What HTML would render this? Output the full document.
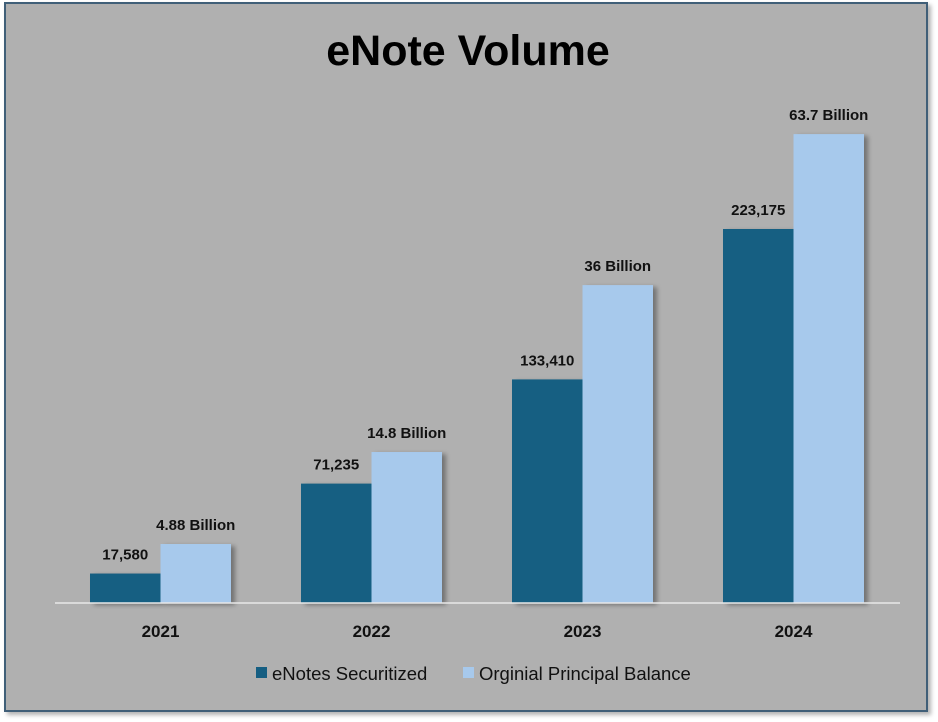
<!DOCTYPE html>
<html><head><meta charset="utf-8"><style>
html,body{margin:0;padding:0;background:#fff;}
svg{display:block;font-family:"Liberation Sans",Arial,sans-serif;}
</style></head><body>
<svg id="chart" width="938" height="722" viewBox="0 0 938 722">
<defs>
<filter id="sh" x="-20%" y="-20%" width="150%" height="140%"><feDropShadow dx="4" dy="2" stdDeviation="2.5" flood-color="#000" flood-opacity="0.35"/></filter>
<filter id="fs" x="-5%" y="-5%" width="110%" height="110%"><feDropShadow dx="3" dy="3" stdDeviation="2" flood-color="#000" flood-opacity="0.3"/></filter>
</defs>
<rect x="5" y="3" width="922" height="708" fill="#b0b0b0" stroke="#3f5f78" stroke-width="2" filter="url(#fs)"/>
<text x="468" y="65" text-anchor="middle" font-size="43" font-weight="bold" fill="#000">eNote Volume</text>
<g id="bars"></g>
<line x1="55" y1="603" x2="900" y2="603" stroke="#e8e8e8" stroke-width="1.5"/>
<g>
<rect x="256" y="667" width="11" height="11" fill="#155e82"/>
<text x="272" y="680" font-size="18.5" fill="#111">eNotes Securitized</text>
<rect x="463" y="667" width="11" height="11" fill="#a7c9ec"/>
<text x="479" y="680" font-size="18.5" fill="#111">Orginial Principal Balance</text>
</g>
</svg>
<script>
const categories = ["2021","2022","2023","2024"];
const enotes = [17580, 71235, 133410, 223175];
const enoteLabels = ["17,580","71,235","133,410","223,175"];
const principal = [35200, 90100, 189700, 279800];
const principalLabels = ["4.88 Billion","14.8 Billion","36 Billion","63.7 Billion"];
const NS="http://www.w3.org/2000/svg";
const g=document.getElementById('bars');
const base=603, scale=374/223175;
const y=v=>base-v*scale;
const xc=i=>160.5+i*211;
const bw=70.5;
function mk(t,a){const e=document.createElementNS(NS,t);for(const k in a)e.setAttribute(k,a[k]);g.appendChild(e);return e;}
categories.forEach((c,i)=>{
  const cx=xc(i);
  const r1=mk('rect',{x:cx-bw,y:y(enotes[i]),width:bw,height:base-y(enotes[i]),fill:'#155e82',filter:'url(#sh)'});
  
  
  const r2=mk('rect',{x:cx,y:y(principal[i]),width:bw,height:base-y(principal[i]),fill:'#a7c9ec',filter:'url(#sh)'});
  
  
  const t1=mk('text',{x:cx-bw/2,y:y(enotes[i])-14,'text-anchor':'middle','font-size':15,'font-weight':'bold',fill:'#111'});
  t1.textContent=enoteLabels[i];
  
  
  const t2=mk('text',{x:cx+bw/2,y:y(principal[i])-14,'text-anchor':'middle','font-size':15,'font-weight':'bold',fill:'#111'});
  t2.textContent=principalLabels[i];
  
  
  const t3=mk('text',{x:cx,y:637,'text-anchor':'middle','font-size':17,'font-weight':'bold',fill:'#111'});
  t3.textContent=c;
  
  
});
</script>
</body></html>
